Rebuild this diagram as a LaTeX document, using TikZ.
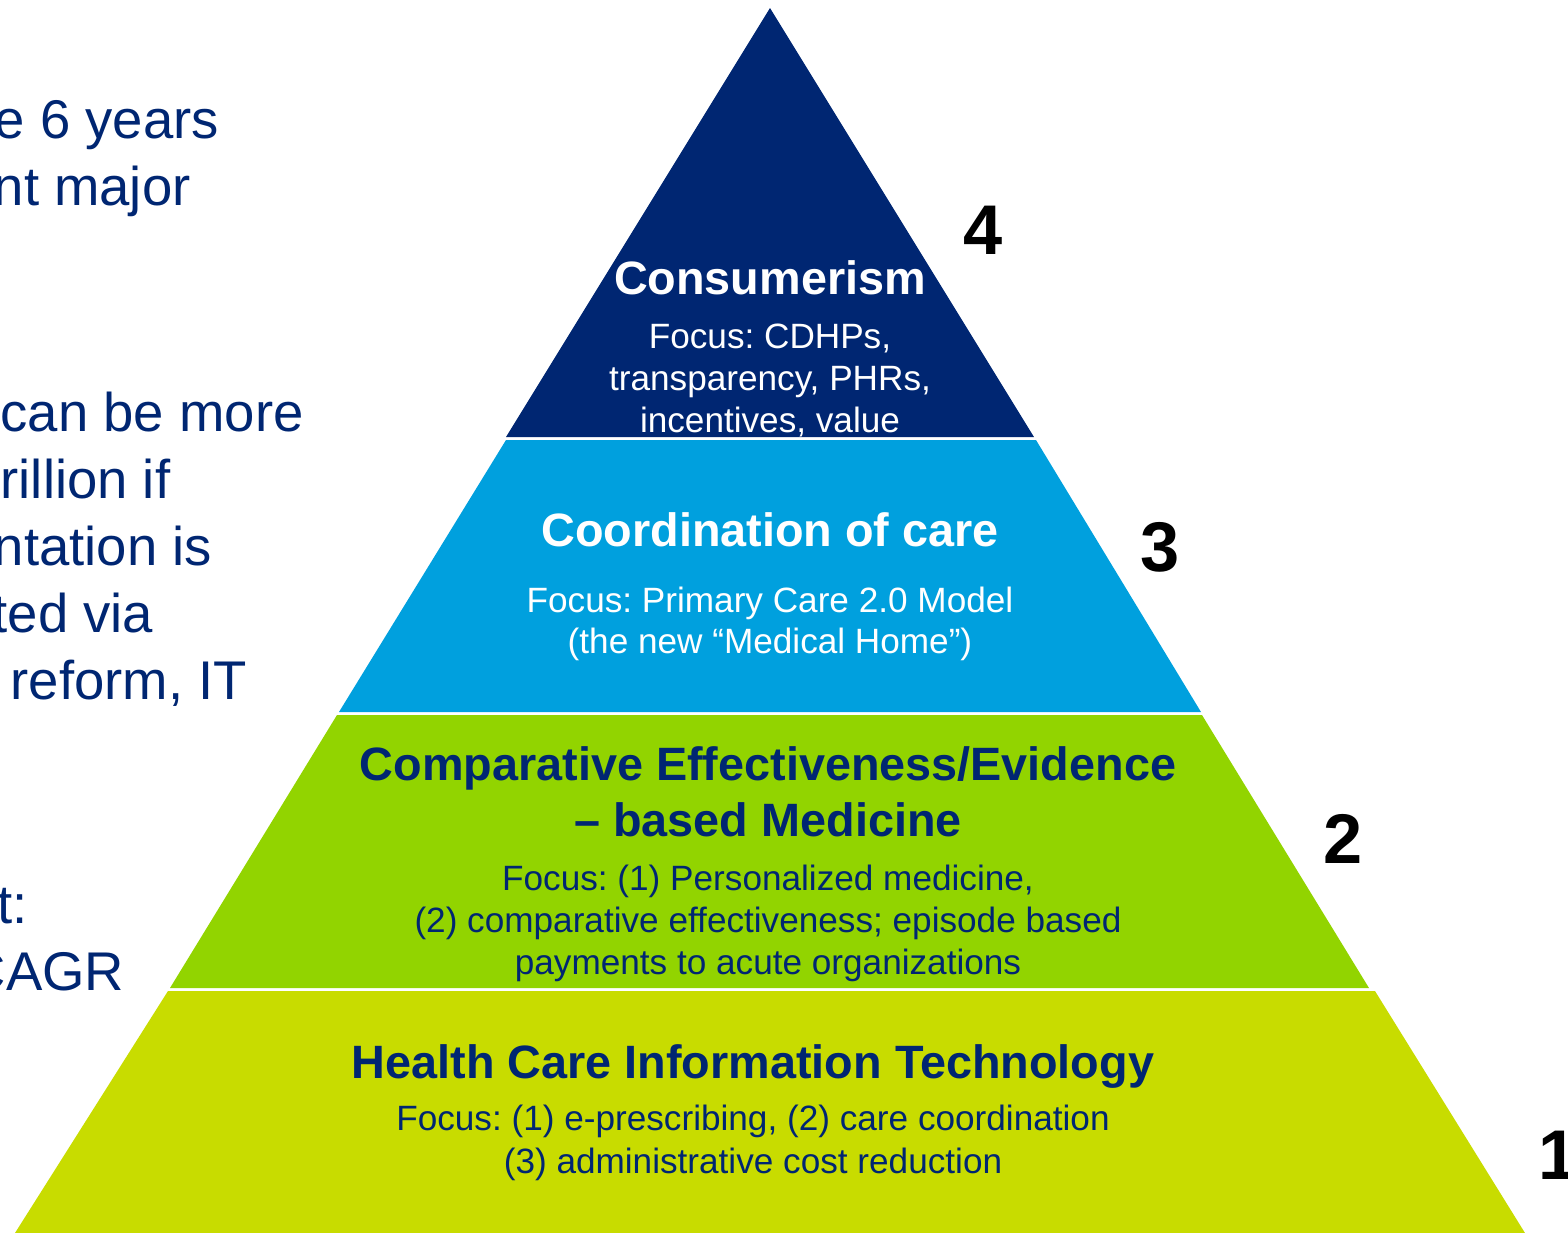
\documentclass[tikz,border=0pt]{standalone}
\usepackage{fontspec}
\setmainfont{Liberation Sans}
\usepackage{xcolor}
\usepackage{tikz}
\usetikzlibrary{positioning}
\frenchspacing

\definecolor{navy}{RGB}{0,38,114}
\definecolor{skyblue}{RGB}{0,160,222}
\definecolor{limegreen}{RGB}{146,212,0}
\definecolor{yellowgreen}{RGB}{200,220,0}

\begin{document}
\begin{tikzpicture}[
        x={(0.01cm,0)}, y={(0,-0.01cm)},
        title/.style={font=\bfseries\fontsize{13.3}{16}\selectfont, inner sep=0, anchor=base},
        focus/.style={font=\fontsize{10}{12}\selectfont, inner sep=0, anchor=base},
        num/.style={font=\bfseries\fontsize{20}{24}\selectfont, inner sep=0, anchor=base},
        side/.style={font=\fontsize{15.5}{19}\selectfont, text=navy, inner sep=0, anchor=base west}
    ]
        \useasboundingbox (0,0) rectangle (1568,1233);
        \clip (0,0) rectangle (1568,1233);

        \fill[navy] (770,8) -- (1034,437) -- (506,437) -- cycle;
        \fill[skyblue] (506,440) -- (1036,440) -- (1201,712) -- (339,712) -- cycle;
        \fill[limegreen] (337,715) -- (1202,715) -- (1369,988) -- (170,988) -- cycle;
        \fill[yellowgreen] (168,991) -- (1375,991) -- (1525,1233) -- (15,1233) -- cycle;

        \node[title, text=white] (cons) at (770,294) {Consumerism};
        \node[focus, text=white] (consA) at (770,348) {Focus: CDHPs,};
        \node[focus, text=white] (consB) at (770,390) {transparency, PHRs,};
        \node[focus, text=white] (consC) at (770,432) {incentives, value};

        \node[title, text=white] (coord) at (770,546) {Coordination of care};
        \node[focus, text=white] (coordA) at (770,612) {Focus: Primary Care 2.0 Model};
        \node[focus, text=white] (coordB) at (770,653) {(the new “Medical Home”)};

        \node[title, text=navy] (comp) at (768,780) {Comparative Effectiveness/Evidence};
        \node[title, text=navy] (compB) at (768,836) {\textendash{} based Medicine};
        \node[focus, text=navy] (compC) at (768,890) {Focus: (1) Personalized medicine,};
        \node[focus, text=navy] (compD) at (768,932) {(2) comparative effectiveness; episode based};
        \node[focus, text=navy] (compE) at (768,974) {payments to acute organizations};

        \node[title, text=navy] (hcit) at (753,1078) {Health Care Information Technology};
        \node[focus, text=navy] (hcitA) at (753,1130) {Focus: (1) e-prescribing, (2) care coordination};
        \node[focus, text=navy] (hcitB) at (753,1173) {(3) administrative cost reduction};

        \node[num] (n4) at (983,254) {4};
        \node[num] (n3) at (1160,571) {3};
        \node[num] (n2) at (1343,863) {2};
        \node[num] (n1) at (1558,1179) {1};

        \node[side] (s1) at (-6,138) {e 6 years};
        \node[side] (s2) at (-7,205) {nt major};
        \node[side] (s3) at (0,431) {can be more};
        \node[side] (s4) at (0,498) {rillion if};
        \node[side] (s5) at (-7,565) {ntation is};
        \node[side] (s6) at (-8,632) {ted via};
        \node[side] (s7) at (10,699) {reform, IT};
        \node[side] (s8) at (-3,923) {t:};
        \node[side] (s9) at (-34,990) {CAGR};
    \end{tikzpicture}
\end{document}
